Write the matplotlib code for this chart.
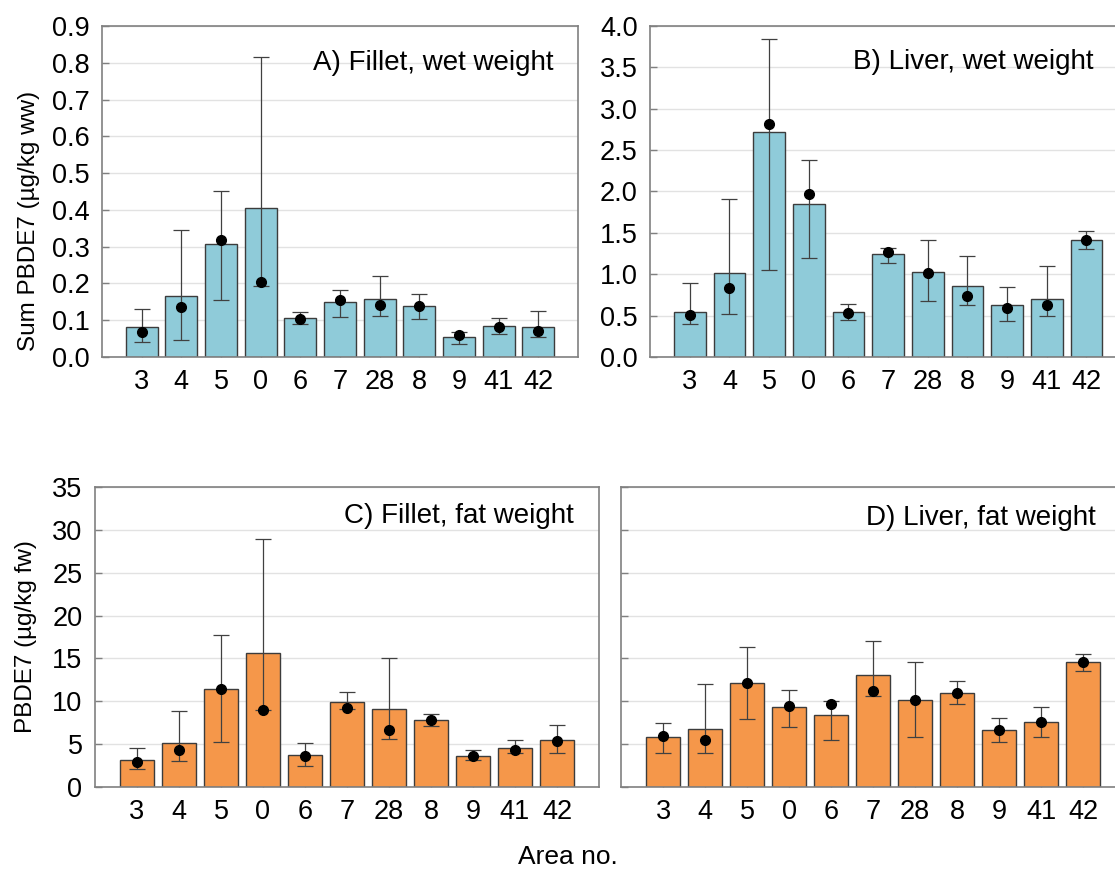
import numpy as np
import matplotlib
matplotlib.use("Agg")
import matplotlib.pyplot as plt

plt.rcParams['font.family'] = ['Liberation Sans', 'DejaVu Sans']

# ── data ────────────────────────────────────────────────────
areas = ["3", "4", "5", "0", "6", "7", "28", "8", "9", "41", "42"]

# A) fillet, wet weight
fillet_ww_bar = [0.081, 0.165, 0.306, 0.404, 0.105, 0.150, 0.157, 0.139, 0.055, 0.083, 0.081]
fillet_ww_dot = [0.068, 0.137, 0.318, 0.204, 0.102, 0.155, 0.141, 0.139, 0.061, 0.081, 0.072]
fillet_ww_lo = [0.041, 0.045, 0.154, 0.192, 0.091, 0.109, 0.112, 0.103, 0.035, 0.063, 0.054]
fillet_ww_hi = [0.131, 0.346, 0.450, 0.817, 0.123, 0.181, 0.219, 0.172, 0.069, 0.105, 0.124]

# B) liver, wet weight
liver_ww_bar = [0.548, 1.02, 2.718, 1.851, 0.548, 1.246, 1.032, 0.863, 0.629, 0.698, 1.419]
liver_ww_dot = [0.508, 0.831, 2.819, 1.972, 0.532, 1.274, 1.02, 0.738, 0.593, 0.629, 1.415]
liver_ww_lo = [0.395, 0.524, 1.048, 1.198, 0.448, 1.137, 0.673, 0.629, 0.435, 0.492, 1.306]
liver_ww_hi = [0.891, 1.907, 3.847, 2.379, 0.645, 1.323, 1.419, 1.222, 0.847, 1.105, 1.528]

# C) fillet, fat weight
fillet_fw_bar = [3.12, 5.14, 11.49, 15.58, 3.78, 9.86, 9.12, 7.87, 3.66, 4.60, 5.53]
fillet_fw_dot = [2.96, 4.32, 11.45, 8.96, 3.58, 9.27, 6.62, 7.79, 3.62, 4.32, 5.42]
fillet_fw_lo = [2.06, 3.04, 5.22, 8.96, 2.49, 9.12, 5.65, 7.13, 3.12, 3.97, 4.01]
fillet_fw_hi = [4.60, 8.92, 17.69, 28.94, 5.18, 11.14, 15.0, 8.53, 4.29, 5.49, 7.29]

# D) liver, fat weight
liver_fw_bar = [5.80, 6.82, 12.15, 9.31, 8.45, 13.01, 10.17, 11.02, 6.70, 7.60, 14.61]
liver_fw_dot = [6.00, 5.49, 12.19, 9.50, 9.74, 11.22, 10.13, 11.02, 6.62, 7.60, 14.53]
liver_fw_lo = [4.01, 4.01, 7.99, 7.05, 5.49, 10.60, 5.84, 9.74, 5.30, 5.80, 13.56]
liver_fw_hi = [7.44, 12.04, 16.36, 11.26, 10.01, 17.06, 14.53, 12.35, 8.10, 9.39, 15.54]

BLUE = "#8fcbd9"
ORANGE = "#f5974a"


def panel(ax, bar, dot, lo, hi, color, title, ymax, ystep, fmt, tx, ty):
    x = np.arange(len(areas))
    dot = np.asarray(dot)
    yerr = [dot - np.asarray(lo), np.asarray(hi) - dot]
    ax.bar(x, bar, width=0.8, color=color, edgecolor="#3c3c3c", linewidth=1.0, zorder=2)
    ax.errorbar(x, dot, yerr=yerr, fmt="o", color="black", ms=7,
                ecolor="#404040", elinewidth=0.9, capsize=6, capthick=0.9, zorder=3)
    ax.set_xlim(-1, 11)
    ax.set_ylim(0, ymax)
    ticks = np.arange(0, ymax + ystep / 2, ystep)
    ax.set_yticks(ticks)
    ax.set_yticklabels([fmt.format(t) for t in ticks])
    ax.set_xticks(x)
    ax.set_xticklabels(areas)
    ax.yaxis.grid(True, color="#e2e2e2", linewidth=1.0, zorder=0)
    ax.set_axisbelow(True)
    ax.tick_params(direction="in", length=5, color="#808080", labelsize=19.5, width=1)
    ax.tick_params(axis="x", pad=9)
    ax.tick_params(axis="y", pad=9)
    for s in ax.spines.values():
        s.set_color("#808080")
        s.set_linewidth(1.2)
    ax.text(tx, ty, title, transform=ax.transAxes, ha="right", va="baseline", fontsize=20)


fig = plt.figure(figsize=(11.15, 8.72), dpi=100)

axA = fig.add_axes([0.0915, 0.5906, 0.4269, 0.3796])
axB = fig.add_axes([0.583, 0.5906, 0.4269, 0.3796])
axC = fig.add_axes([0.0852, 0.0975, 0.452, 0.344])
axD = fig.add_axes([0.557, 0.0975, 0.452, 0.344])

panel(axA, fillet_ww_bar, fillet_ww_dot, fillet_ww_lo, fillet_ww_hi, BLUE,
      "A) Fillet, wet weight", 0.9, 0.1, "{:.1f}", 0.949, 0.867)
panel(axB, liver_ww_bar, liver_ww_dot, liver_ww_lo, liver_ww_hi, BLUE,
      "B) Liver, wet weight", 4.0, 0.5, "{:.1f}", 0.931, 0.870)
panel(axC, fillet_fw_bar, fillet_fw_dot, fillet_fw_lo, fillet_fw_hi, ORANGE,
      "C) Fillet, fat weight", 35, 5, "{:.0f}", 0.949, 0.88)
panel(axD, liver_fw_bar, liver_fw_dot, liver_fw_lo, liver_fw_hi, ORANGE,
      "D) Liver, fat weight", 35, 5, "{:.0f}", 0.941, 0.873)
axD.set_yticklabels([])

axA.set_ylabel("Sum PBDE7 (µg/kg ww)", fontsize=17.5)
axA.yaxis.set_label_coords(-0.13, 0.41)
axC.set_ylabel("PBDE7 (µg/kg fw)", fontsize=17.5)
axC.yaxis.set_label_coords(-0.115, 0.5)
fig.text(0.509, 1 - 857 / 872, "Area no.", ha="center", va="center", fontsize=19)

fig.savefig("out.png", dpi=100)
